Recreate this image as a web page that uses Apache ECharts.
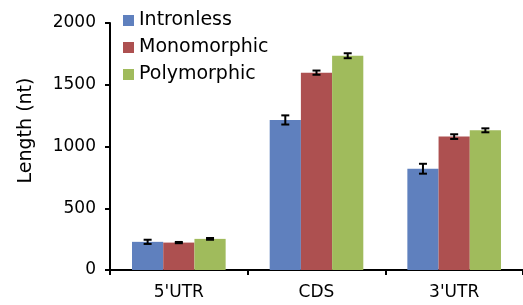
<!DOCTYPE html>
<html>
<head>
<meta charset="utf-8">
<script src="https://cdn.jsdelivr.net/npm/echarts@6/dist/echarts.min.js"></script>
<style>
  html, body { margin: 0; padding: 0; background: #fff; }
  #main { width: 523px; height: 305px; }
</style>
</head>
<body>
<div id="main"></div>
<script>
// categories and series values
var categories = ['5\'UTR', 'CDS', '3\'UTR'];
var seriesNames = ['Intronless', 'Monomorphic', 'Polymorphic'];
var intronless = [228, 1215, 820];
var monomorphic = [222, 1598, 1080];
var polymorphic = [252, 1735, 1131];
var intronlessErr = [17, 37, 40];
var monomorphicErr = [5, 17, 19];
var polymorphicErr = [7, 20, 16];
var yTicks = [0, 500, 1000, 1500, 2000];

var colors = ['#5F80BE', '#AD5050', '#A0BB5C'];
var values = [intronless, monomorphic, polymorphic];
var errors = [intronlessErr, monomorphicErr, polymorphicErr];
var groupRatio = 0.68;

var chart = echarts.init(document.getElementById('main'));

// error bars, one custom series per group
function errorSeries(idx) {
	var data = [];
	for (var i = 0; i < categories.length; i++) {
		data.push([i, values[idx][i] - errors[idx][i], values[idx][i] + errors[idx][i]]);
	}
	return {
		type : 'custom',
		name : seriesNames[idx] + ' err',
		z : 10,
		silent : true,
		data : data,
		renderItem : function(params, api) {
			var band = api.size([1, 0])[0];
			var barW = band * groupRatio / 3;
			var lo = api.coord([api.value(0), api.value(1)]);
			var hi = api.coord([api.value(0), api.value(2)]);
			var x = lo[0] + (idx - 1) * barW;
			var cap = 4;
			var st = { stroke : '#000', lineWidth : 2 };
			return {
				type : 'group',
				children : [
					{ type : 'line', shape : { x1 : x, y1 : lo[1], x2 : x, y2 : hi[1] }, style : st },
					{ type : 'line', shape : { x1 : x - cap, y1 : lo[1], x2 : x + cap, y2 : lo[1] }, style : st },
					{ type : 'line', shape : { x1 : x - cap, y1 : hi[1], x2 : x + cap, y2 : hi[1] }, style : st }
				]
			};
		}
	};
}

var series = [];
for (var s = 0; s < 3; s++) {
	series.push({
		name : seriesNames[s],
		type : 'bar',
		data : values[s],
		barGap : '0%',
		barCategoryGap : '32%',
		itemStyle : { color : colors[s] }
	});
}
for (var s = 0; s < 3; s++) {
	series.push(errorSeries(s));
}

var option = {
	animation : false,
	textStyle : { fontFamily : 'DejaVu Sans' },
	grid : { left : 110, right : 0, top : 23, bottom : 35 },
	legend : {
		data : seriesNames,
		orient : 'vertical',
		left : 118,
		top : 6,
		icon : 'rect',
		itemWidth : 11,
		itemHeight : 11,
		itemGap : 8,
		textStyle : { fontSize : 19, color : '#000', lineHeight : 19 }
	},
	xAxis : {
		type : 'category',
		data : categories,
		axisLine : { lineStyle : { color : '#000', width : 2 } },
		axisTick : { show : true, length : 5, lineStyle : { color : '#000', width : 2 } },
		axisLabel : { fontSize : 17, color : '#000', margin : 14 }
	},
	yAxis : {
		type : 'value',
		min : yTicks[0],
		max : yTicks[yTicks.length - 1],
		interval : 500,
		name : 'Length (nt)',
		nameLocation : 'middle',
		nameGap : 74,
		nameTextStyle : { fontSize : 19, color : '#000', padding : [0, 0, 0, 32] },
		axisLine : { show : true, lineStyle : { color : '#000', width : 2 } },
		axisTick : { show : true, length : 5, lineStyle : { color : '#000', width : 2 } },
		axisLabel : {
			fontSize : 17,
			color : '#000',
			margin : 14,
			formatter : function(v) {
				return String(v);
			}
		},
		splitLine : { show : false }
	},
	series : series
};

chart.setOption(option);
</script>
</body>
</html>
